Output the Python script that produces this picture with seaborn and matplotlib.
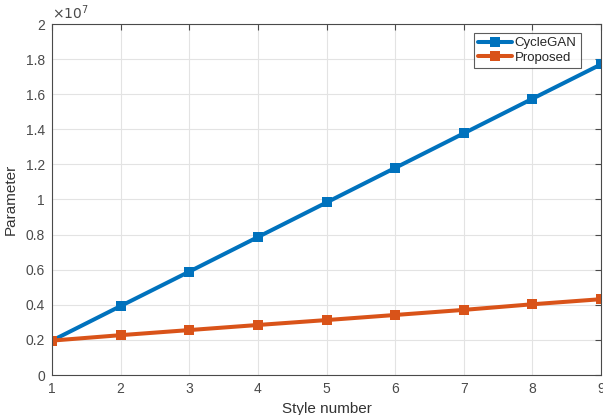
import matplotlib
matplotlib.use("Agg")
import matplotlib.pyplot as plt
import seaborn as sns
import pandas as pd
import numpy as np

style_number = [1, 2, 3, 4, 5, 6, 7, 8, 9]
cyclegan = [1.96e6, 3.93e6, 5.89e6, 7.86e6, 9.83e6, 11.80e6, 13.77e6, 15.74e6, 17.70e6]
proposed = [1.96e6, 2.27e6, 2.56e6, 2.85e6, 3.13e6, 3.42e6, 3.71e6, 4.03e6, 4.32e6]
series_names = ["CycleGAN", "Proposed"]
y_ticks = [0, 0.2e7, 0.4e7, 0.6e7, 0.8e7, 1.0e7, 1.2e7, 1.4e7, 1.6e7, 1.8e7, 2.0e7]
y_tick_labels = ["0", "0.2", "0.4", "0.6", "0.8", "1", "1.2", "1.4", "1.6", "1.8", "2"]
colors = ["#0072BD", "#D95319"]

df = pd.DataFrame({
    "Style number": style_number * 2,
    "Parameter": cyclegan + proposed,
    "Method": [series_names[0]] * len(style_number) + [series_names[1]] * len(style_number),
})

sns.set_style("white")
plt.rcParams["font.family"] = ["Liberation Sans", "DejaVu Sans"]

fig = plt.figure(figsize=(6.03, 4.15), dpi=100)
ax = fig.add_axes([52 / 603, 40 / 415, 549 / 603, 351 / 415])

sns.lineplot(data=df, x="Style number", y="Parameter", hue="Method",
             palette=colors, marker="s", markersize=7.5, linewidth=2.9,
             markeredgewidth=0, ax=ax, legend=True)

grey = "#4a4a4a"
ax.set_xlim(1, 9)
ax.set_ylim(0, 2e7)
ax.set_xticks(style_number)
ax.set_yticks(y_ticks)
ax.set_yticklabels(y_tick_labels)
ax.grid(True, color="#e3e3e3", linewidth=0.8)
ax.set_axisbelow(True)
for s in ax.spines.values():
    s.set_visible(True)
    s.set_color(grey)
    s.set_linewidth(0.8)
ax.tick_params(direction="in", length=4, width=0.8, colors=grey,
               labelsize=10, top=True, right=True, pad=5)
ax.set_xlabel("Style number", fontsize=11, color="#333333", labelpad=4)
ax.set_ylabel("Parameter", fontsize=11, color="#333333", labelpad=6)
ax.text(0.0, 1.005, r"$\times10^{7}$", transform=ax.transAxes, fontsize=10,
        color=grey, ha="left", va="bottom")

leg = ax.legend(loc="upper right", bbox_to_anchor=(0.97, 0.985), fontsize=9.5,
                frameon=True, fancybox=False, edgecolor="#333333",
                handlelength=2.6, borderpad=0.3, labelspacing=0.15,
                handletextpad=0.2, borderaxespad=0.3)
leg.get_frame().set_linewidth(0.8)
for t in leg.get_texts():
    t.set_color("#262626")

fig.savefig("out.png", dpi=100)
